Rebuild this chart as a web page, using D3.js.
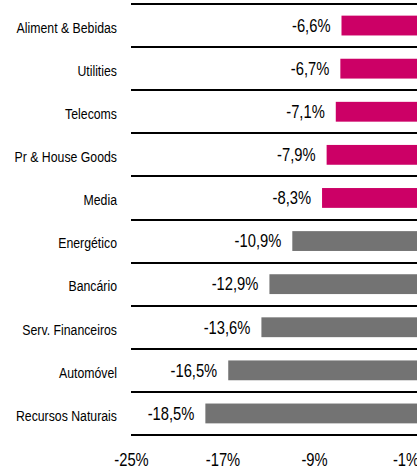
<!DOCTYPE html>
<meta charset="utf-8">
<style>
body { margin: 0; background: #fff; }
text { font-family: "Liberation Sans", Arial, sans-serif; fill: #000; }
.sep { stroke: #000; stroke-width: 2; shape-rendering: crispEdges; }
</style>
<body>
<svg width="417" height="468"></svg>
<script src="https://cdn.jsdelivr.net/npm/d3@7"></script>
<script>

// data
var sectors = ["Aliment & Bebidas", "Utilities", "Telecoms", "Pr & House Goods", "Media",
               "Energético", "Bancário", "Serv. Financeiros", "Automóvel", "Recursos Naturais"];
var changes = [-6.6, -6.7, -7.1, -7.9, -8.3, -10.9, -12.9, -13.6, -16.5, -18.5];
var highlight = [true, true, true, true, true, false, false, false, false, false];
var xTicks = [-25, -17, -9, -1];

var svg = d3.select("svg"),
    plotLeft = 131, plotRight = 417, plotTop = 4, plotBottom = 435,
    narrow = 0.82;  // squeeze Liberation Sans to look like Arial Narrow

var x = d3.scaleLinear().domain([-25, 0]).range([plotLeft, plotRight]);
var y = d3.scaleBand().domain(sectors).range([plotTop, plotBottom])
    .paddingInner(0.54).paddingOuter(0.27);

var fmt = function(v) { return v.toFixed(1).replace(".", ",") + "%"; };

// separator lines
svg.selectAll("line.sep")
  .data(d3.range(sectors.length + 1))
  .enter().append("line")
    .attr("class", "sep")
    .attr("x1", plotLeft).attr("x2", plotRight)
    .attr("y1", function(i) { return Math.round(plotTop + i * y.step()); })
    .attr("y2", function(i) { return Math.round(plotTop + i * y.step()); });

// bars
svg.selectAll("rect.bar")
  .data(changes)
  .enter().append("rect")
    .attr("class", "bar")
    .attr("x", function(d) { return x(d); })
    .attr("width", function(d) { return x(0) - x(d); })
    .attr("y", function(d, i) { return y(sectors[i]); })
    .attr("height", y.bandwidth())
    .style("fill", function(d, i) { return highlight[i] ? "#cc0066" : "#737373"; });

// value labels
svg.selectAll("text.val")
  .data(changes)
  .enter().append("text")
    .attr("class", "val")
    .attr("transform", function(d, i) {
      return "translate(" + (x(d) - 11) + "," + (y(sectors[i]) + y.bandwidth() / 2) + ") scale(" + narrow + ",1)";
    })
    .attr("dy", "0.35em")
    .attr("text-anchor", "end")
    .style("font-size", "18px")
    .text(fmt);

// category labels
svg.selectAll("text.cat")
  .data(sectors)
  .enter().append("text")
    .attr("class", "cat")
    .attr("transform", function(d) {
      return "translate(117," + (y(d) + y.bandwidth() / 2 + 2) + ") scale(" + narrow + ",1)";
    })
    .attr("dy", "0.35em")
    .attr("text-anchor", "end")
    .style("font-size", "15px")
    .text(function(d) { return d; });

// x axis
var xAxis = d3.axisBottom(x).tickValues(xTicks).tickSize(0).tickPadding(0)
    .tickFormat(function(d) { return d + "%"; });
var ax = svg.append("g")
    .attr("transform", "translate(0,453)")
    .call(xAxis);
ax.attr("font-family", null).attr("font-size", null);
ax.select(".domain").remove();
ax.selectAll("text")
    .attr("dy", "0.71em")
    .attr("transform", "scale(" + narrow + ",1)")
    .style("font-size", "18px");

</script>
</body>
